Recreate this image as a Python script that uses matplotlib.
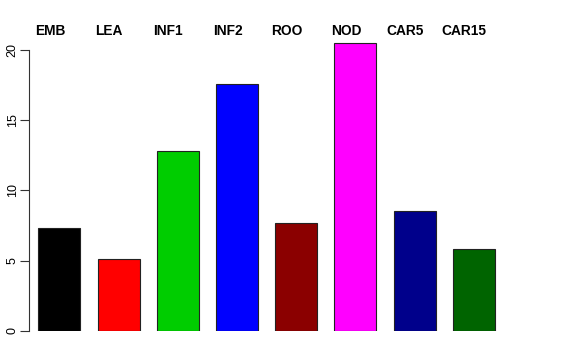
import matplotlib
matplotlib.use('Agg')
import matplotlib.pyplot as plt

# Tissue labels and bar heights
tissues = ['EMB', 'LEA', 'INF1', 'INF2', 'ROO', 'NOD', 'CAR5', 'CAR15']
values = [7.30, 5.12, 12.81, 17.58, 7.70, 20.45, 8.53, 5.83]
colours = ['black', 'red', '#00CD00', 'blue', '#8B0000', 'magenta', '#00008B', '#006400']
yticks = [0, 5, 10, 15, 20]

plt.rcParams['font.family'] = ['Liberation Sans', 'DejaVu Sans']

fig = plt.figure(figsize=(5.76, 3.6), dpi=100)
W, H = 576, 360
# axes box in pixels: left spine at x=29.3, y=0 at 331, y=21 at ~35.5
left, right = 29.3, 560
bottom, top = 331, 331 - 21 * 14.07
ax = fig.add_axes([left / W, 1 - bottom / H, (right - left) / W, (bottom - top) / H])

x = list(range(len(tissues)))
ax.bar(x, values, width=0.71, color=colours, edgecolor='#222222', linewidth=0.8)

ax.set_xlim(-0.510, -0.510 + (right - left) / 59.19)
ax.set_ylim(0, 21)

for s in ['top', 'right', 'bottom']:
    ax.spines[s].set_visible(False)
ax.spines['left'].set_bounds(0, 20)
ax.spines['left'].set_color('#333333')
ax.spines['left'].set_linewidth(0.8)
ax.set_xticks([])
ax.set_yticks(yticks)
ax.set_yticklabels([str(t) for t in yticks], rotation=90, va='center', fontsize=9)
ax.tick_params(axis='y', length=6.2, width=0.8, color='#333333', pad=1.5)

# Tissue names across the top
for i, name in enumerate(tissues):
    ax.text(i - 0.16, 1.017, name, transform=ax.get_xaxis_transform(),
            ha='center', va='center', fontsize=9.9, fontweight='bold')

fig.savefig('out.png', dpi=100)
